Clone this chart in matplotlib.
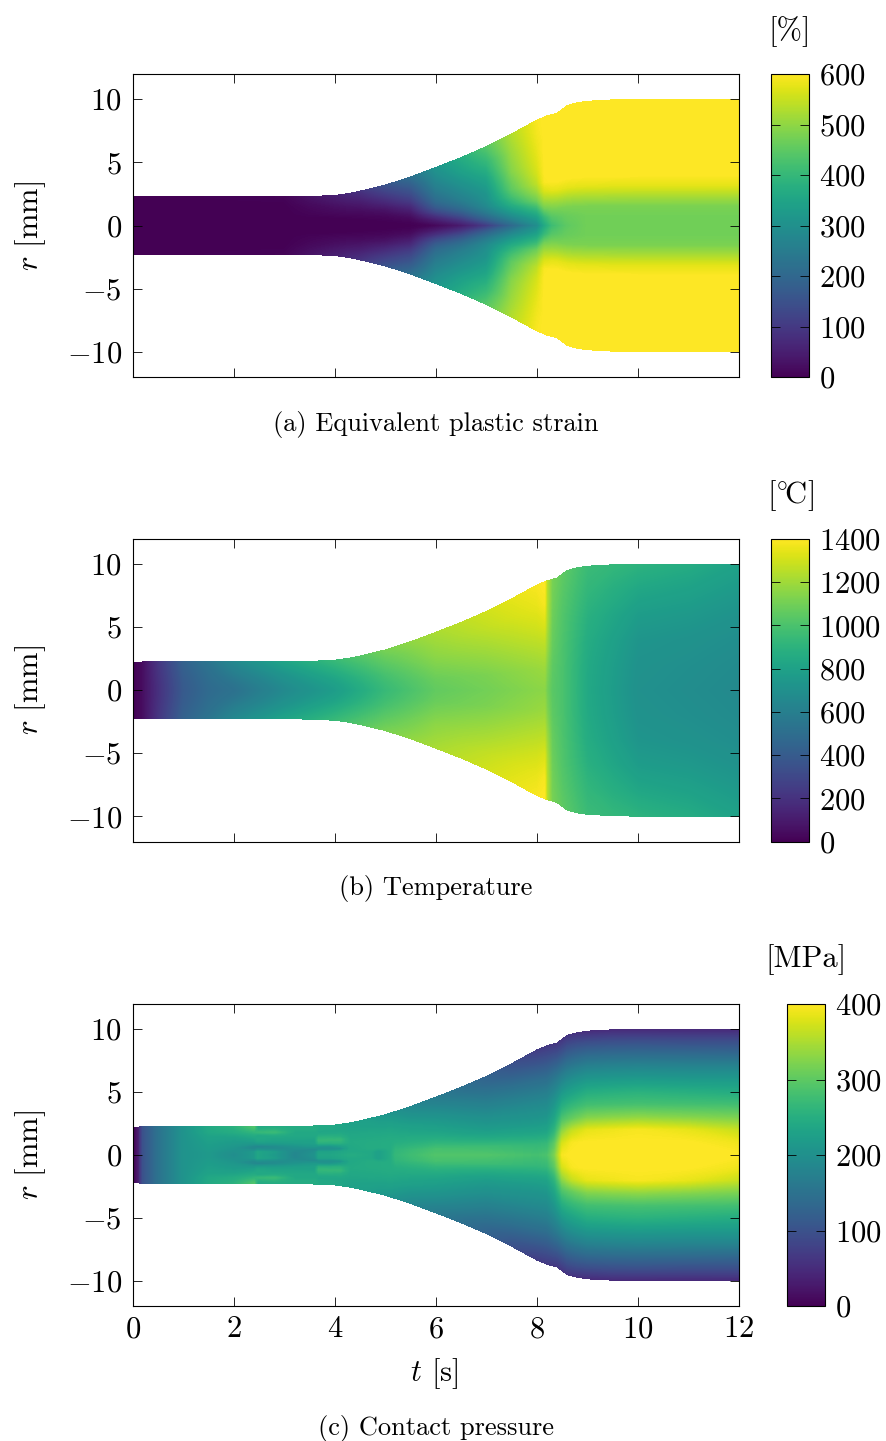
import numpy as np
import matplotlib
matplotlib.use("Agg")
import matplotlib.pyplot as plt
from matplotlib.cm import ScalarMappable
from matplotlib.colors import Normalize

plt.rcParams.update({
    "font.family": ["cmr10", "DejaVu Serif"],
    "mathtext.fontset": "cm",
    "axes.formatter.use_mathtext": True,
    "axes.unicode_minus": True,
    "font.size": 22,
})

# Outer radius of the weld [mm]
T_PROFILE = [0, 2, 3, 3.5, 4, 4.25, 4.5, 5, 5.5, 6, 6.5, 7, 7.5, 8, 8.2, 8.4, 8.5, 8.6, 8.8, 9, 9.5, 10, 12]
R_PROFILE = [2.26, 2.26, 2.26, 2.29, 2.38, 2.52, 2.72, 3.2, 3.85, 4.6, 5.38, 6.25, 7.25, 8.35, 8.68, 8.9, 9.2, 9.5, 9.72, 9.84, 9.95, 9.99, 10]

# (a) Equivalent plastic strain [%]
ETA_STRAIN = [0, .08, .16, .24, .32, .4, .5, .6, .8, 1]
T_STRAIN = [0, 3, 4, 4.5, 5, 5.5, 6, 6.5, 7, 7.5, 8, 8.15, 8.3, 8.6, 9, 12]
STRAIN = [
    [0, 0, 0, 0, 0, 0, 0, 0, 0, 0],
    [0, 0, 0, 0, 0, 0, 0, 0, 2, 5],
    [0, 0, 0, 0, 5, 10, 15, 20, 35, 50],
    [0, 0, 0, 5, 10, 15, 25, 35, 60, 85],
    [0, 0, 5, 10, 20, 30, 50, 70, 110, 150],
    [0, 5, 15, 30, 50, 70, 100, 125, 170, 215],
    [10, 40, 80, 130, 170, 200, 225, 245, 280, 310],
    [40, 90, 150, 200, 235, 260, 280, 300, 340, 370],
    [100, 180, 240, 280, 300, 310, 330, 350, 395, 440],
    [200, 270, 330, 380, 420, 450, 470, 490, 510, 530],
    [290, 340, 400, 470, 510, 540, 560, 570, 585, 595],
    [360, 400, 470, 520, 565, 595, 600, 600, 600, 600],
    [410, 440, 480, 525, 575, 600, 600, 600, 600, 600],
    [450, 460, 480, 525, 575, 600, 600, 600, 600, 600],
    [470, 470, 480, 525, 575, 600, 600, 600, 600, 600],
    [470, 470, 480, 525, 575, 600, 600, 600, 600, 600],
]

# (b) Temperature [deg C]
ETA_TEMP = [0, .2, .4, .6, .8, 1]
T_TEMP = [0, .2, .5, 1, 1.5, 2, 3, 4, 5, 6, 7, 8, 8.15, 8.2, 8.3, 8.5, 9, 10, 11, 12]
TEMP = [
    [0, 0, 0, 0, 0, 0],
    [50, 50, 50, 50, 50, 50],
    [190, 190, 195, 200, 205, 210],
    [390, 395, 400, 410, 420, 430],
    [480, 485, 495, 505, 520, 540],
    [520, 535, 560, 590, 620, 650],
    [660, 675, 700, 730, 770, 810],
    [770, 790, 820, 860, 900, 940],
    [940, 960, 990, 1030, 1070, 1110],
    [1060, 1080, 1120, 1160, 1190, 1220],
    [1100, 1120, 1170, 1220, 1270, 1300],
    [1150, 1180, 1240, 1300, 1350, 1385],
    [1155, 1190, 1250, 1320, 1380, 1400],
    [1100, 1130, 1180, 1220, 1240, 1240],
    [1040, 1050, 1070, 1085, 1100, 1110],
    [1000, 1000, 1005, 1015, 1030, 1050],
    [840, 845, 860, 885, 920, 950],
    [700, 710, 730, 770, 830, 900],
    [680, 690, 710, 750, 800, 860],
    [660, 670, 685, 715, 755, 800],
]

# (c) Contact pressure [MPa]
ETA_PRESS = [0, .1, .2, .3, .4, .5, .6, .7, .8, .9, 1]
T_PRESS = [0, .1, .2, .5, 1, 1.5, 2, 2.4, 2.47, 2.8, 3.2, 3.6, 3.68, 3.9, 4.1, 4.3, 4.7, 4.85, 5.1, 5.2, 5.5, 6, 7, 8, 8.2, 8.35, 8.5, 8.7, 9, 10, 11, 12]
PRESS = [
    [0, 0, 0, 0, 0, 0, 0, 0, 0, 0, 0],
    [30, 30, 30, 30, 30, 30, 30, 30, 30, 30, 30],
    [100, 100, 100, 100, 100, 100, 100, 100, 100, 100, 100],
    [150, 150, 150, 150, 150, 150, 150, 150, 150, 150, 150],
    [205, 205, 205, 205, 205, 205, 205, 205, 205, 205, 205],
    [215, 215, 218, 220, 222, 225, 228, 232, 238, 240, 240],
    [195, 198, 205, 210, 215, 220, 225, 235, 245, 250, 255],
    [215, 215, 190, 185, 210, 225, 235, 245, 260, 275, 290],
    [235, 235, 200, 180, 215, 235, 240, 240, 265, 250, 240],
    [215, 220, 195, 190, 215, 230, 235, 245, 270, 255, 245],
    [185, 185, 195, 205, 220, 230, 235, 240, 240, 245, 245],
    [205, 200, 190, 215, 225, 230, 235, 240, 240, 245, 245],
    [235, 230, 195, 210, 250, 265, 255, 240, 235, 240, 240],
    [235, 230, 195, 210, 250, 265, 255, 240, 235, 240, 240],
    [240, 235, 200, 225, 255, 265, 250, 240, 235, 235, 235],
    [245, 240, 238, 240, 242, 240, 238, 235, 232, 230, 228],
    [240, 240, 245, 245, 243, 240, 238, 232, 228, 225, 220],
    [225, 225, 245, 245, 243, 240, 236, 230, 225, 220, 215],
    [245, 245, 246, 246, 244, 240, 235, 228, 222, 215, 205],
    [265, 262, 255, 248, 243, 238, 232, 225, 218, 210, 200],
    [275, 270, 258, 248, 240, 232, 225, 215, 205, 195, 185],
    [290, 282, 262, 245, 232, 222, 212, 200, 188, 175, 165],
    [290, 275, 245, 222, 208, 195, 180, 165, 150, 135, 125],
    [280, 265, 235, 215, 200, 185, 165, 145, 120, 95, 70],
    [285, 268, 237, 217, 200, 185, 165, 143, 118, 92, 66],
    [320, 300, 265, 240, 220, 200, 178, 155, 125, 95, 62],
    [395, 375, 335, 290, 255, 225, 195, 165, 130, 95, 60],
    [402, 396, 365, 305, 268, 235, 205, 172, 135, 98, 58],
    [405, 402, 385, 325, 280, 250, 215, 180, 140, 98, 50],
    [405, 405, 395, 332, 282, 255, 218, 182, 140, 98, 45],
    [404, 400, 385, 325, 280, 250, 215, 180, 138, 95, 45],
    [402, 390, 365, 318, 278, 245, 215, 180, 135, 95, 45],
]

X_TICKS = [0, 2, 4, 6, 8, 10, 12]
Y_TICKS = [-10, -5, 0, 5, 10]
FIELDS = [
    (ETA_STRAIN, T_STRAIN, STRAIN, 600, [0, 100, 200, 300, 400, 500, 600], "[%]", "(a) Equivalent plastic strain"),
    (ETA_TEMP, T_TEMP, TEMP, 1400, [0, 200, 400, 600, 800, 1000, 1200, 1400], r"[$^{\circ}\!$C]", "(b) Temperature"),
    (ETA_PRESS, T_PRESS, PRESS, 400, [0, 100, 200, 300, 400], "[MPa]", "(c) Contact pressure"),
]

W, H = 887, 1441
fig = plt.figure(figsize=(W / 100, H / 100), dpi=100)


def rect(x0, x1, y0, y1):
    return [x0 / W, 1 - y1 / H, (x1 - x0) / W, (y1 - y0) / H]


AX_Y = [(74, 377), (539, 841.5), (1004, 1306)]
CB_X = [(771.5, 809), (771.5, 809), (787, 825)]
LABEL_XY = [(790, 32), (790, 496), (806, 960)]
CAP_Y = [424, 889, 1428]

for i, (eta, tk, vals, vmax, cticks, clabel, caption) in enumerate(FIELDS):
    y0, y1 = AX_Y[i]
    ax = fig.add_axes(rect(133, 739, y0, y1))
    vals = np.array(vals, dtype=float)
    # geometry: union of field knots and profile knots, mirrored about r = 0
    tt = np.union1d(tk, T_PROFILE)
    half = np.column_stack([np.interp(tt, tk, vals[:, j]) for j in range(vals.shape[1])])
    eta_a = np.array(eta)
    eta_full = np.r_[-eta_a[:0:-1], eta_a]
    zz = np.hstack([half[:, :0:-1], half])
    rad = np.interp(tt, T_PROFILE, R_PROFILE)
    TT = np.repeat(tt[:, None], eta_full.size, axis=1)
    RR = rad[:, None] * eta_full[None, :]
    norm = Normalize(0, vmax)
    ax.contourf(TT, RR, np.clip(zz, 0, vmax), levels=np.linspace(0, vmax, 257),
                cmap="viridis", norm=norm, antialiased=False)
    ax.set_xlim(0, 12)
    ax.set_ylim(-12, 12)
    ax.set_xticks(X_TICKS)
    ax.set_yticks(Y_TICKS)
    ax.tick_params(direction="in", top=True, right=True, length=6.5, width=0.6,
                   labelsize=22, pad=8, labelbottom=(i == 2))
    ax.tick_params(axis="x", pad=7)
    for s in ax.spines.values():
        s.set_linewidth(0.8)
    fig.text(31 / W, 1 - (y0 + y1) / 2 / H, r"$r$ [mm]", rotation=90, fontsize=22,
             ha="center", va="center")
    if i == 2:
        fig.text(434 / W, 1 - 1374 / H, r"$t$ [s]", fontsize=22, ha="center", va="center")
    fig.text(436 / W, 1 - CAP_Y[i] / H, caption, fontsize=19, ha="center", va="center")

    cax = fig.add_axes(rect(CB_X[i][0], CB_X[i][1], y0, y1))
    cb = fig.colorbar(ScalarMappable(norm=norm, cmap="viridis"), cax=cax)
    cb.set_ticks(cticks)
    cb.ax.minorticks_off()
    cb.ax.tick_params(direction="in", left=True, right=True, length=6.5, width=0.6,
                      labelsize=22, pad=7)
    cb.outline.set_linewidth(0.8)
    fig.text(LABEL_XY[i][0] / W, 1 - LABEL_XY[i][1] / H, clabel, fontsize=22,
             ha="center", va="center")

fig.savefig("out.png", dpi=100)
